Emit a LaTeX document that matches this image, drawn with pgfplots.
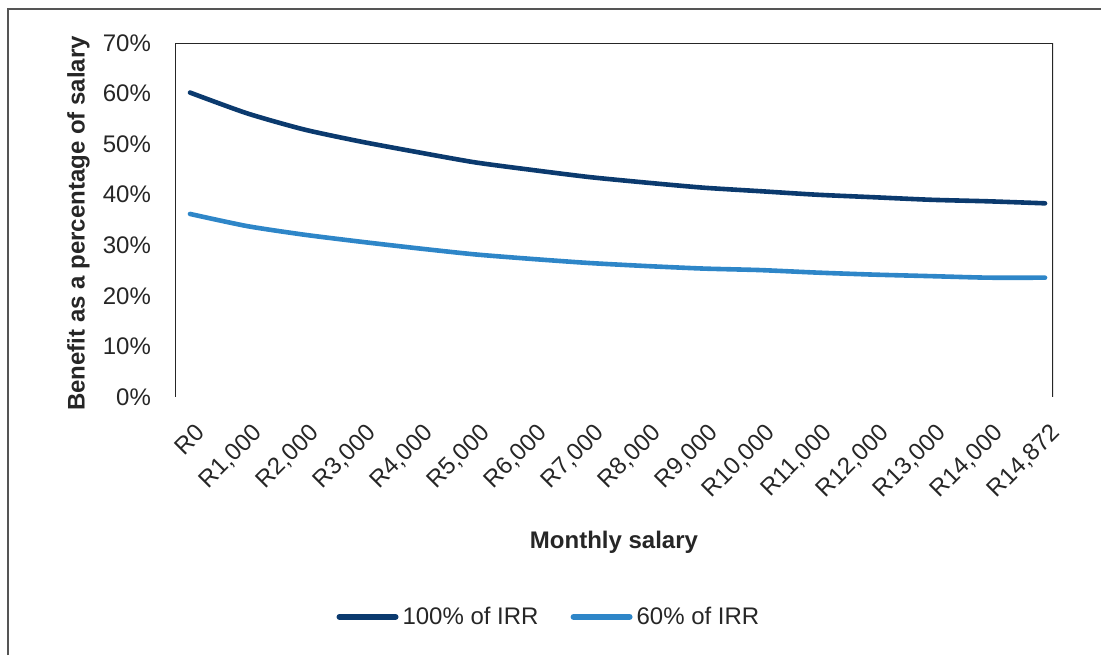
\documentclass[border=0pt]{standalone}
\usepackage{pgfplots}
\pgfplotsset{compat=1.18}
\usepackage{fontspec}
\setmainfont{Liberation Sans}
\definecolor{irrdark}{HTML}{0B3A6E}
\definecolor{irrlight}{HTML}{2E86C8}
\definecolor{framegray}{HTML}{555555}

\begin{document}
\begin{tikzpicture}
\useasboundingbox (0,0) rectangle (550.5pt,327.5pt);
% outer chart frame (cut off on the right and bottom in the reference)
\draw[framegray, line width=1pt] (4pt,0pt) -- (4pt,323pt) -- (550.5pt,323pt);
\begin{axis}[
    at={(87.5pt,129pt)}, anchor=south west,
    width=439pt, height=177pt, scale only axis,
    xmin=-0.263, xmax=15.14,
    ymin=0, ymax=70,
    xtick={0,...,15},
    xticklabels={R0,{R1,000},{R2,000},{R3,000},{R4,000},{R5,000},{R6,000},{R7,000},{R8,000},{R9,000},{R10,000},{R11,000},{R12,000},{R13,000},{R14,000},{R14,872}},
    ytick={0,10,...,70},
    yticklabels={0\%,10\%,20\%,30\%,40\%,50\%,60\%,70\%},
    tick style={draw=none},
    axis line style={draw=none},
    /pgf/number format/assume math mode=true,
    ticklabel style={font=\fontsize{12}{14}\selectfont, text=black!85},
    xticklabel style={rotate=45, anchor=north east, xshift=-4pt, yshift=-7pt},
    yticklabel style={xshift=-8.5pt},
    xlabel={\bfseries Monthly salary},
    ylabel={\bfseries Benefit as a percentage of salary},
    label style={font=\fontsize{12}{14}\selectfont, text=black!85},
    xlabel style={at={(axis description cs:0.5,-0.41)}, anchor=center},
    ylabel style={at={(axis description cs:-0.11,0.49)}, anchor=center},
    legend columns=2,
    legend style={at={(axis description cs:0.427,-0.621)}, anchor=center, draw=none, fill=none,
        font=\fontsize{12}{14}\selectfont, text=black!85,
        /tikz/every even column/.append style={column sep=14pt}},
    legend image code/.code={\draw[#1, line width=3pt, line cap=round] (0pt,0pt) -- (28pt,0pt);},
    legend cell align=left,
]
\draw[black!85, line width=0.9pt] (rel axis cs:0,0) -- (rel axis cs:0,1) -- (rel axis cs:1,1) -- (rel axis cs:1,0);
\addplot[irrdark, line width=2.3pt, smooth, tension=0.4, line cap=round] coordinates {
    (0,60.2) (1,56.1) (2,52.9) (3,50.5) (4,48.4) (5,46.4) (6,44.9) (7,43.5)
    (8,42.4) (9,41.4) (10,40.7) (11,40.0) (12,39.5) (13,39.0) (14,38.7) (15,38.3)};
\addlegendentry{100\% of IRR}
\addplot[irrlight, line width=2.3pt, smooth, tension=0.4, line cap=round] coordinates {
    (0,36.2) (1,33.8) (2,32.1) (3,30.7) (4,29.4) (5,28.2) (6,27.3) (7,26.5)
    (8,25.9) (9,25.4) (10,25.1) (11,24.6) (12,24.2) (13,23.9) (14,23.6) (15,23.6)};
\addlegendentry{60\% of IRR}
\end{axis}
\end{tikzpicture}
\end{document}
